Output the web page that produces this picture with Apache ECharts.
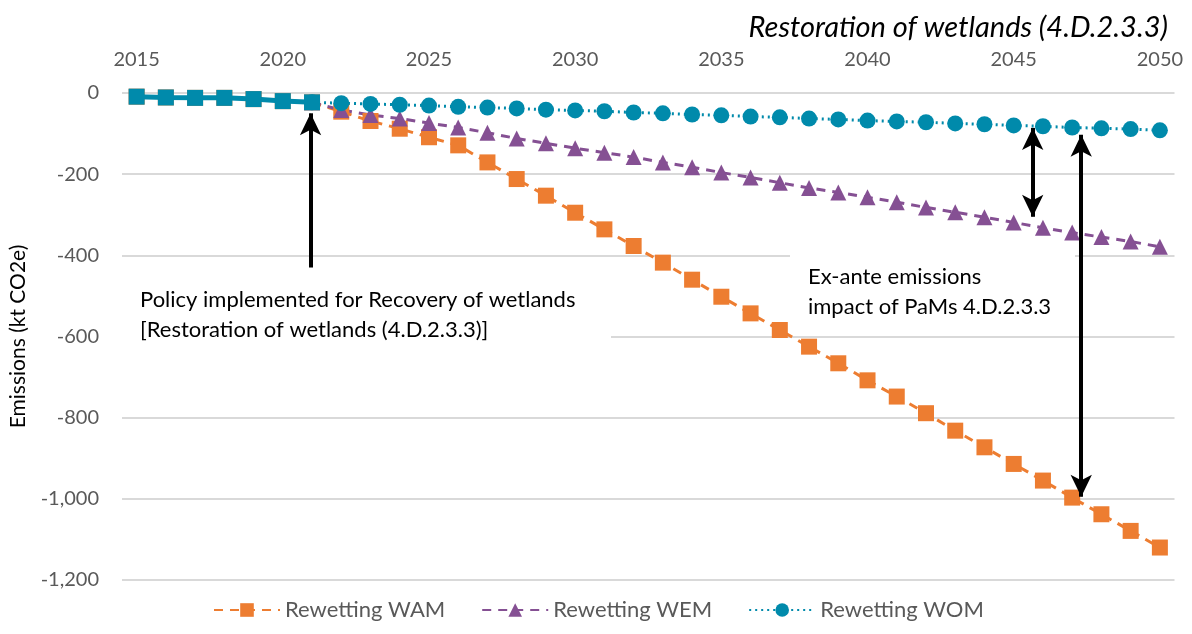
<!DOCTYPE html>
<html>
<head>
<meta charset="utf-8">
<script src="https://cdn.jsdelivr.net/npm/echarts@6/dist/echarts.min.js"></script>
<style>html,body{margin:0;padding:0;background:#fff}#c{width:1192px;height:634px}</style>
</head>
<body>
<div id="c"></div>
<script>
// ---- data ----
const histYears = [2015, 2016, 2017, 2018, 2019, 2020, 2021];
const historical = [-9, -11, -12, -12, -15, -20, -23];
const projYears = [2022, 2023, 2024, 2025, 2026, 2027, 2028, 2029, 2030, 2031, 2032, 2033, 2034, 2035, 2036, 2037, 2038, 2039, 2040, 2041, 2042, 2043, 2044, 2045, 2046, 2047, 2048, 2049, 2050];
const wam = [-46, -69, -88, -109, -129, -171, -212, -253, -295, -336, -377, -418, -460, -502, -543, -584, -625, -666, -708, -748, -789, -832, -873, -914, -955, -997, -1038, -1079, -1120];
const wem = [-42, -54, -63, -74, -85, -98, -112, -124, -136, -147, -158, -171, -183, -196, -208, -221, -234, -245, -257, -269, -282, -294, -306, -319, -332, -344, -355, -366, -379];
const wom = [-25, -27, -29, -31, -34, -36, -38, -41, -43, -45, -48, -50, -53, -55, -58, -60, -63, -65, -68, -70, -72, -75, -77, -80, -82, -85, -87, -89, -92];
const xTicks = [2015, 2020, 2025, 2030, 2035, 2040, 2045, 2050];
const seriesNames = ['Rewetting WAM', 'Rewetting WEM', 'Rewetting WOM'];
const titleText = 'Restoration of wetlands (4.D.2.3.3)';
const yName = 'Emissions (kt CO2e)';
const policyText = 'Policy implemented for Recovery of wetlands\n[Restoration of wetlands (4.D.2.3.3)]';
const impactText = 'Ex-ante emissions\nimpact of PaMs 4.D.2.3.3';
// annotation arrows in data coordinates [year, value]
const policyArrow = [[2020.95, -430], [2020.95, -50]];
const impactArrowWem = [[2045.65, -86], [2045.65, -305]];
const impactArrowWam = [[2047.31, -103], [2047.31, -995]];

// ---- build ----
const FONT = 'Lato';
const C_WAM = '#ED7D31', C_WEM = '#855093', C_WOM = '#008AAB';
const histPts = histYears.map((y, i) => [y, historical[i]]);
const lastHist = histPts[histPts.length - 1];
const mk = arr => projYears.map((y, i) => [y, arr[i]]);

const chart = echarts.init(document.getElementById('c'), null, {renderer: 'canvas'});
chart.setOption({
  animation: false,
  backgroundColor: '#fff',
  textStyle: {fontFamily: FONT},
  title: {
    text: titleText, right: 19, top: 8,
    textStyle: {fontFamily: FONT, fontStyle: 'italic', fontWeight: 'normal', fontSize: 29, color: '#000'}
  },
  grid: {left: 115.5, right: 17.5, top: 93, bottom: 54, containLabel: false},
  legend: {
    data: seriesNames, bottom: 8, left: 208, itemWidth: 66, itemHeight: 17, itemGap: 36,
    textStyle: {fontFamily: FONT, fontSize: 22, color: '#595959'}
  },
  xAxis: {
    type: 'value', position: 'top', min: 2014.5, max: 2050.5,
    axisLine: {show: false}, axisTick: {show: false}, splitLine: {show: false},
    axisLabel: {customValues: xTicks, margin: 23, fontSize: 20, color: '#595959', fontFamily: FONT,
      formatter: v => String(v)}
  },
  yAxis: {
    type: 'value', min: -1200, max: 0, interval: 200,
    name: yName, nameLocation: 'middle', nameGap: 93, nameRotate: 90,
    nameTextStyle: {fontFamily: FONT, fontSize: 21, color: '#000'},
    axisLine: {show: false}, axisTick: {show: false},
    splitLine: {lineStyle: {color: '#D9D9D9', width: 2}},
    axisLabel: {margin: 23, fontSize: 20, color: '#595959', fontFamily: FONT,
      formatter: v => v.toLocaleString('en-US')}
  },
  graphic: [
    {type: 'rect', z: 1, shape: {x: 117, y: 268, width: 494, height: 78}, style: {fill: '#fff'}},
    {type: 'rect', z: 1, shape: {x: 790, y: 246, width: 285, height: 84}, style: {fill: '#fff'}},
    {type: 'text', z: 5, left: 140, top: 285, style: {text: policyText, fontFamily: FONT, fontSize: 22, lineHeight: 30, fill: '#000'}},
    {type: 'text', z: 5, left: 808, top: 262, style: {text: impactText, fontFamily: FONT, fontSize: 22, lineHeight: 30, fill: '#000'}}
  ],
  series: [
    {
      name: seriesNames[0], type: 'line', z: 3,
      data: histPts.concat(mk(wam)),
      color: C_WAM, symbol: 'rect', symbolSize: 16,
      lineStyle: {type: [9, 7], width: 3, color: C_WAM}, itemStyle: {color: C_WAM},
      markLine: {
        silent: true, symbol: ['none', 'arrow'], symbolSize: [16, 22],
        label: {show: false}, lineStyle: {type: 'solid', color: '#000', width: 4},
        data: [
          [{coord: policyArrow[0], symbol: 'none'}, {coord: policyArrow[1], symbol: 'arrow'}],
          [{coord: impactArrowWem[0], symbol: 'arrow'}, {coord: impactArrowWem[1], symbol: 'arrow'}],
          [{coord: impactArrowWam[0], symbol: 'arrow'}, {coord: impactArrowWam[1], symbol: 'arrow'}]
        ]
      }
    },
    {
      name: seriesNames[1], type: 'line', z: 3,
      data: [lastHist].concat(mk(wem)),
      color: C_WEM, symbol: 'triangle', symbolSize: 16,
      lineStyle: {type: [9, 7], width: 3, color: C_WEM}, itemStyle: {color: C_WEM}
    },
    {
      name: seriesNames[2], type: 'line', z: 3,
      data: [lastHist].concat(mk(wom)),
      color: C_WOM, symbol: 'circle', symbolSize: 16,
      lineStyle: {type: [2, 4], width: 3, color: C_WOM}, itemStyle: {color: C_WOM}
    },
    {
      name: 'Historical', type: 'line', z: 4,
      data: histPts, color: C_WOM, symbol: 'rect', symbolSize: 16,
      lineStyle: {type: 'solid', width: 5, color: C_WOM}, itemStyle: {color: C_WOM}
    }
  ]
});
</script>
</body>
</html>
